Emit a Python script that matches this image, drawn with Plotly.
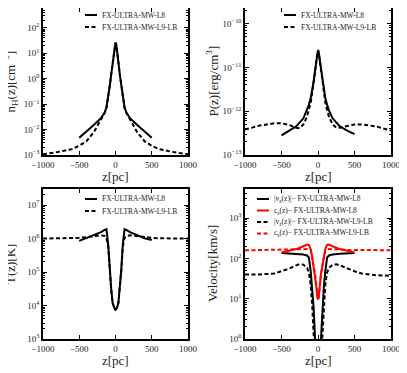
import plotly.graph_objects as go
from plotly.subplots import make_subplots

# z grids [pc]
z_l8 = [-500, -400, -300, -200, -150, -125, -100, -80, -60, -40, -20, -10, 0,
        10, 20, 40, 60, 80, 100, 125, 150, 200, 300, 400, 500]
z_lb = [-1000, -800, -600, -500, -400, -300, -250, -200, -150, -125, -100, -80, -60, -40, -20, -10, 0,
        10, 20, 40, 60, 80, 100, 125, 150, 200, 250, 300, 400, 500, 600, 800, 1000]

# hydrogen number density [cm^-3]
nh_l8 = [4.8e-3, 8.3e-3, 1.5e-2, 2.8e-2, 4.7e-2, 7.5e-2, 0.18, 0.5, 1.4, 4.5, 14, 22, 26,
         22, 14, 4.5, 1.4, 0.5, 0.18, 7.5e-2, 4.7e-2, 2.8e-2, 1.5e-2, 8.3e-3, 4.8e-3]
nh_lb = [1.07e-3, 1.3e-3, 1.7e-3, 2.3e-3, 3.5e-3, 7.8e-3, 1.4e-2, 2.5e-2, 4.5e-2, 7e-2, 0.17, 0.5, 1.4, 4.5, 14, 22, 26,
         22, 14, 4.5, 1.4, 0.5, 0.17, 7e-2, 4.5e-2, 2.5e-2, 1.4e-2, 7.8e-3, 3.5e-3, 2.3e-3, 1.7e-3, 1.3e-3, 1.07e-3]

# pressure [erg/cm^3]
p_l8 = [2.8e-13, 3.5e-13, 4.5e-13, 6.9e-13, 1.05e-12, 1.4e-12, 2.0e-12, 3.0e-12, 4.8e-12, 8.5e-12, 1.7e-11, 2.2e-11,
        2.5e-11, 2.2e-11, 1.7e-11, 8.5e-12, 4.8e-12, 3.0e-12, 2.0e-12, 1.4e-12, 1.05e-12, 6.9e-13, 4.5e-13, 3.6e-13,
        3.0e-13]
p_lb = [3.8e-13, 4.7e-13, 5.3e-13, 5.3e-13, 4.9e-13, 4.2e-13, 4.1e-13, 5.0e-13, 7.5e-13, 1.05e-12, 1.6e-12, 2.6e-12,
        4.3e-12, 8e-12, 1.65e-11, 2.2e-11, 2.5e-11, 2.2e-11, 1.65e-11, 8e-12, 4.3e-12, 2.6e-12, 1.6e-12, 1.05e-12,
        7.5e-13, 5.0e-13, 4.2e-13, 4.2e-13, 4.6e-13, 5.0e-13, 5.0e-13, 4.5e-13, 3.6e-13]

# temperature [K]
t_l8 = [8.5e5, 1.02e6, 1.26e6, 1.55e6, 1.8e6, 1.9e6, 6.5e5, 1.2e5, 3.3e4, 1.2e4, 8.5e3, 7.8e3, 7.5e3,
        7.8e3, 8.5e3, 1.2e4, 3.3e4, 1.2e5, 6.5e5, 1.9e6, 1.8e6, 1.55e6, 1.26e6, 1.02e6, 9e5]
t_lb = [1.0e6, 1.0e6, 1.02e6, 1.05e6, 1.1e6, 1.18e6, 1.22e6, 1.25e6, 1.2e6, 1.05e6, 5.5e5, 1.1e5, 3e4, 1.2e4, 8.5e3,
        7.8e3, 7.5e3, 7.8e3, 8.5e3, 1.2e4, 3e4, 1.1e5, 5.5e5, 1.05e6, 1.2e6, 1.25e6, 1.22e6, 1.18e6, 1.1e6, 1.05e6,
        1.02e6, 1.0e6, 1.0e6]

# velocities [km/s]
vz_l8 = [135, 133, 130, 125, 118, 105, 48, 20, 6, 1.0, 0.2, 0.05, 0.02,
         0.05, 0.2, 1.0, 6, 20, 48, 105, 118, 125, 130, 133, 135]
cs_l8 = [140, 155, 170, 200, 220, 215, 170, 110, 65, 40, 18, 11, 9.5,
         11, 18, 40, 65, 110, 170, 215, 220, 200, 170, 155, 140]
vz_lb = [40, 40, 42, 48, 55, 67, 72, 70, 58, 45, 22, 7, 1.5, 0.3, 0.05, 0.02, 0.01,
         0.02, 0.05, 0.3, 1.5, 7, 22, 45, 58, 70, 71, 67, 56, 48, 42, 38, 37]
cs_lb = [158, 160, 160, 160, 162, 165, 167, 168, 170, 170, 160, 110, 65, 40, 18, 11, 9.5,
         11, 18, 40, 65, 110, 160, 170, 170, 168, 167, 165, 162, 160, 160, 160, 158]

runs = ["FX-ULTRA-MW-L8", "FX-ULTRA-MW-L9-LB"]
vel_labels = ["|v<sub>z</sub>(z)|\u2212 FX-ULTRA-MW-L8", "c<sub>s</sub>(z)\u2212 FX-ULTRA-MW-L8",
              "|v<sub>z</sub>(z)|\u2212 FX-ULTRA-MW-L9-LB", "c<sub>s</sub>(z)\u2212 FX-ULTRA-MW-L9-LB"]

FONT = "Liberation Serif"
DASH = "4px,2.5px"
RED = "#ff0000"

fig = make_subplots(rows=2, cols=2)


def add(x, y, row, col, color="black", dash="solid"):
    fig.add_trace(go.Scatter(x=x, y=y, mode="lines", showlegend=False,
                             line=dict(color=color, width=2, dash=dash)), row=row, col=col)


add(z_l8, nh_l8, 1, 1)
add(z_lb, nh_lb, 1, 1, dash=DASH)
add(z_l8, p_l8, 1, 2)
add(z_lb, p_lb, 1, 2, dash=DASH)
add(z_l8, t_l8, 2, 1)
add(z_lb, t_lb, 2, 1, dash=DASH)
add(z_l8, vz_l8, 2, 2)
add(z_l8, cs_l8, 2, 2, color=RED)
add(z_lb, vz_lb, 2, 2, dash=DASH)
add(z_lb, cs_lb, 2, 2, color=RED, dash=DASH)

# the page body has an 8px default margin, so the figure is drawn 8px in from the window corner
OFF = 8
W, H = 407 - OFF, 373 - OFF


def fx(px):
    return (px - OFF) / W


def fy(py):
    return 1 - (py - OFF) / H


xpx = {1: (43, 188), 2: (245, 391)}
ypx = {1: (8, 155), 2: (189, 339)}

axis_common = dict(showline=True, linecolor="black", linewidth=1.5, mirror="ticks",
                   ticks="inside", ticklen=4, tickwidth=1, tickcolor="black",
                   showgrid=False, zeroline=False, automargin=False,
                   tickfont=dict(family=FONT, size=9, color="#222222"))


def sup(e):
    return "10<sup>" + str(e).replace("-", "\u2212") + "</sup>"


panels = [
    (1, 1, "n<sub>H</sub>(z)[cm<sup>\u22123</sup>]", [-3, 2.78], list(range(-3, 3))),
    (1, 2, "P(z)[erg/cm<sup>3</sup>]", [-13, -9.64], list(range(-13, -9))),
    (2, 1, "T(z)[K]", [3, 7.48], list(range(3, 8))),
    (2, 2, "Velocity[km/s]", [0, 3.72], list(range(0, 4))),
]

title_font = dict(family=FONT, size=13, color="#222222")
for row, col, ytitle, yr, exps in panels:
    x0, x1 = xpx[col]
    y0, y1 = ypx[row]
    fig.update_xaxes(axis_common, range=[-1000, 1000], domain=[fx(x0), fx(x1)],
                     tickvals=[-1000, -500, 0, 500, 1000], row=row, col=col)
    fig.update_yaxes(axis_common, type="log", range=yr, domain=[fy(y1), fy(y0)],
                     tickvals=[10 ** e for e in exps], ticktext=[sup(e) for e in exps],
                     minor=dict(ticks="inside", ticklen=2, tickcolor="black", dtick="D1", showgrid=False),
                     row=row, col=col)
    # axis titles placed as annotations so the plot areas stay where they are
    fig.add_annotation(xref="paper", yref="paper", x=fx((x0 + x1) / 2), y=fy(y1 + 21),
                       xanchor="center", yanchor="middle", showarrow=False, text="z[pc]", font=title_font)
    fig.add_annotation(xref="paper", yref="paper", x=fx(x0 - 33), y=fy((y0 + y1) / 2),
                       xanchor="center", yanchor="middle", showarrow=False, textangle=-90,
                       text=ytitle, font=title_font)


# legends drawn as short line samples + labels inside each panel
def legend_entry(x0, y, label, color="black", dash="solid"):
    fig.add_shape(type="line", xref="paper", yref="paper",
                  x0=fx(x0), x1=fx(x0 + 12), y0=fy(y), y1=fy(y),
                  line=dict(color=color, width=2, dash=dash))
    fig.add_annotation(xref="paper", yref="paper", x=fx(x0 + 15), y=fy(y),
                       xanchor="left", yanchor="middle", showarrow=False, text=label,
                       font=dict(family=FONT, size=7.5, color="#222222"))


for x0, ytop in [(85, 5), (284, 5), (85, 189)]:
    legend_entry(x0, ytop + 10, runs[0])
    legend_entry(x0, ytop + 22, runs[1], dash=DASH)

styles = [("black", "solid"), (RED, "solid"), ("black", DASH), (RED, DASH)]
for i, (lab, (c, d)) in enumerate(zip(vel_labels, styles)):
    legend_entry(257, 199 + i * 11.5, lab, color=c, dash=d)

fig.update_layout(width=W, height=H, margin=dict(l=0, r=0, t=0, b=0),
                  plot_bgcolor="white", paper_bgcolor="white",
                  font=dict(family=FONT, color="black"), showlegend=False)

fig.write_html("out.html")
